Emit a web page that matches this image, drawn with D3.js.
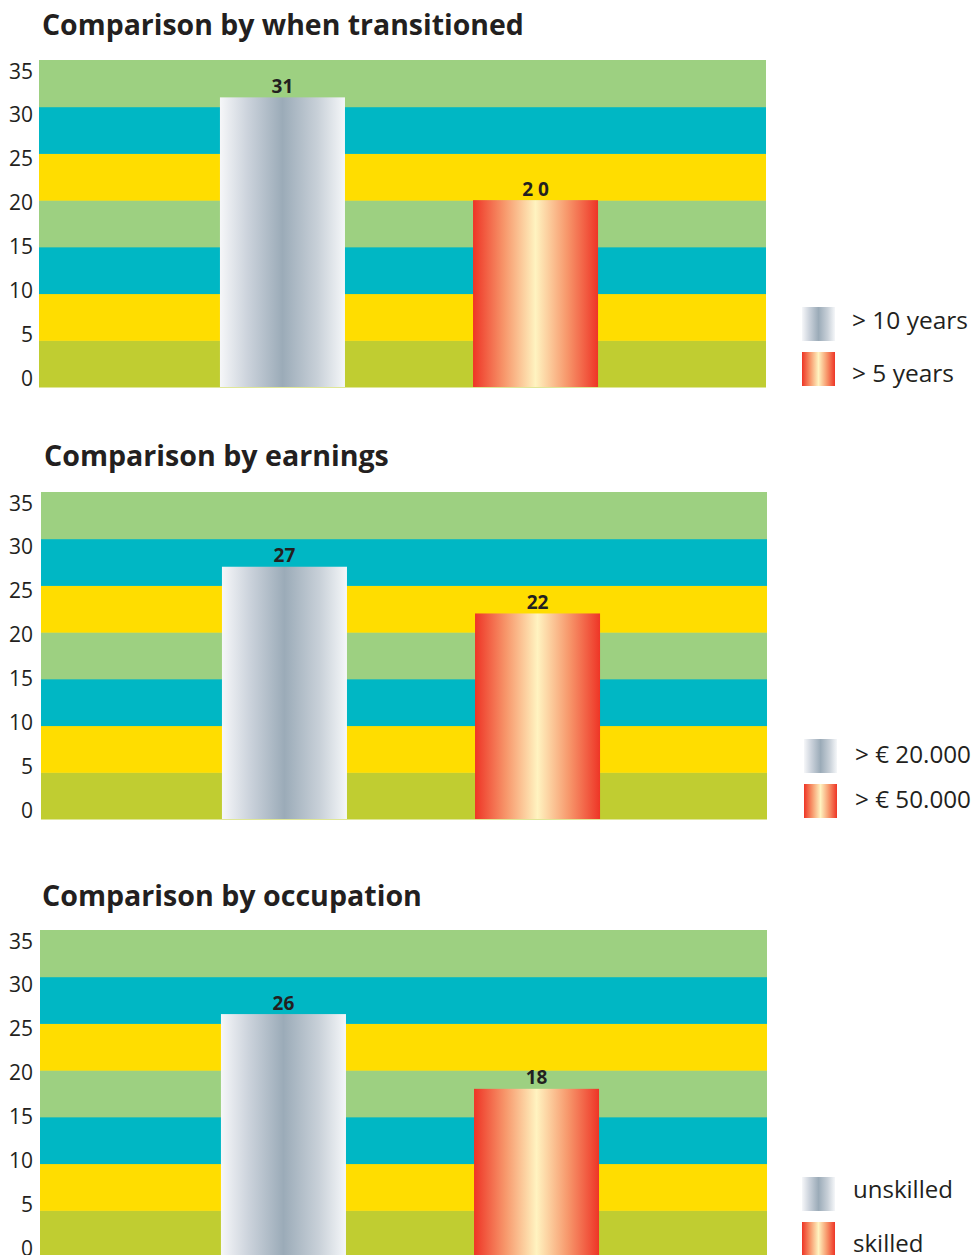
<!DOCTYPE html>
<html>
<head>
<meta charset="utf-8">
<script src="https://cdn.jsdelivr.net/npm/d3@7"></script>
<style>
  html, body { margin: 0; padding: 0; background: #ffffff; }
  svg { display: block; }
  text { font-family: "Open Sans", "Noto Sans", "DejaVu Sans", sans-serif; fill: #231f20; }
</style>
</head>
<body>
<svg id="chart" width="972" height="1255"></svg>
<script>
// ---------- DATA ----------
const panelTitles = [
  "Comparison by when transitioned",
  "Comparison by earnings",
  "Comparison by occupation"
];
const categories = [
  ["> 10 years", "> 5 years"],
  ["> \u20AC 20.000", "> \u20AC 50.000"],
  ["unskilled", "skilled"]
];
const values = [
  [31, 20],
  [27, 22],
  [26, 18]
];
const valueLabels = [
  ["31", "2 0"],
  ["27", "22"],
  ["26", "18"]
];
const yTicks = [0, 5, 10, 15, 20, 25, 30, 35];
const bandEdges = [0, 5, 10, 15, 20, 25, 30, 35];
const bandColors = ["#c0cd31", "#ffdd00", "#00b7c4", "#9dd081", "#ffdd00", "#00b7c4", "#9dd081"];

// ---------- LAYOUT ----------
const layout = [
  { top: 60,  left: 39, right: 766, titleX: 42, titleY: 35,  titleW: 482, swX: 802, txX: 852, t1: 22, t2: 30 },
  { top: 492, left: 41, right: 767, titleX: 44, titleY: 466, titleW: 345, swX: 804, txX: 855, t1: 24, t2: 24 },
  { top: 930, left: 40, right: 767, titleX: 42, titleY: 906, titleW: 380, swX: 802, txX: 853, t1: 21, t2: 30 }
];
const plotH = 327;

const svg = d3.select("#chart");
const defs = svg.append("defs");

function makeGrad(id, stops) {
  const g = defs.append("linearGradient").attr("id", id)
    .attr("x1", "0%").attr("x2", "100%").attr("y1", "0%").attr("y2", "0%");
  stops.forEach(s => g.append("stop").attr("offset", s[0]).attr("stop-color", s[1]));
}
makeGrad("gradGrey", [["0%", "#f6f7f9"], ["22%", "#ccd3dc"], ["50%", "#9babb8"], ["78%", "#c8d0d8"], ["100%", "#f5f7f9"]]);
makeGrad("gradOrange", [["0%", "#ee3526"], ["25%", "#f7976b"], ["50%", "#fff3c0"], ["75%", "#f7986c"], ["100%", "#ee3526"]]);
const gradIds = ["url(#gradGrey)", "url(#gradOrange)"];

function fitText(sel, targetW, startSize) {
  sel.attr("font-size", startSize);
  const w = sel.node().getComputedTextLength();
  const s = startSize * targetW / w;
  sel.attr("font-size", s);
  return s;
}

layout.forEach((L, p) => {
  const bottom = L.top + plotH;
  const g = svg.append("g");

  const y = d3.scaleLinear().domain([0, 35]).range([bottom, L.top]);
  const yLabel = d3.scaleLinear().domain([0, 35]).range([bottom - 2, L.top + 18]);
  const x = d3.scaleBand().domain(categories[p])
    .range([L.left, L.left + 740]).paddingInner(0.506).paddingOuter(0.715);

  // title
  const t = g.append("text").attr("x", L.titleX).attr("y", L.titleY)
    .attr("font-weight", 700).text(panelTitles[p]);
  fitText(t, L.titleW, 28);

  // background bands
  g.append("g").selectAll("rect")
    .data(bandColors)
    .join("rect")
    .attr("x", L.left)
    .attr("width", L.right - L.left)
    .attr("y", (d, i) => y(bandEdges[i + 1]))
    .attr("height", (d, i) => y(bandEdges[i]) - y(bandEdges[i + 1]) + 0.5)
    .attr("fill", d => d);

  // y tick labels
  const ax = g.append("g").attr("transform", "translate(33,0)")
    .call(d3.axisLeft(yLabel).tickValues(yTicks).tickSize(0).tickPadding(0).tickFormat(d3.format("d")));
  ax.select(".domain").remove();
  ax.selectAll("text").attr("dy", 0).attr("font-size", 21)
    .style("font-family", "'Open Sans', 'Noto Sans', sans-serif").attr("fill", "#231f20");

  // bars
  const data = categories[p].map((c, i) => ({ c, v: values[p][i], lab: valueLabels[p][i], i }));
  g.append("g").selectAll("rect")
    .data(data)
    .join("rect")
    .attr("x", d => x(d.c))
    .attr("width", x.bandwidth())
    .attr("y", d => y(d.v))
    .attr("height", d => y(0) - y(d.v))
    .attr("fill", d => gradIds[d.i]);

  // value labels
  g.append("g").selectAll("text")
    .data(data)
    .join("text")
    .attr("x", d => x(d.c) + x.bandwidth() / 2)
    .attr("y", d => y(d.v) - 4.5)
    .attr("text-anchor", "middle")
    .attr("font-weight", 700)
    .attr("font-size", 19)
    .text(d => d.lab);

  // legend
  const swTops = [bottom - 80, bottom - 35];
  const lg = g.append("g");
  lg.selectAll("rect")
    .data(data)
    .join("rect")
    .attr("x", L.swX)
    .attr("y", d => swTops[d.i])
    .attr("width", 33)
    .attr("height", 34)
    .attr("fill", d => gradIds[d.i]);
  const lt = lg.selectAll("text")
    .data(data)
    .join("text")
    .attr("x", L.txX)
    .attr("y", d => swTops[d.i] + (d.i === 0 ? L.t1 : L.t2))
    .attr("font-size", 22)
    .text(d => d.c);
  const targets = [116, 116, 100];
  const fs = fitText(d3.select(lt.nodes()[0]), targets[p], 22);
  lt.attr("font-size", fs);
});
</script>
</body>
</html>
